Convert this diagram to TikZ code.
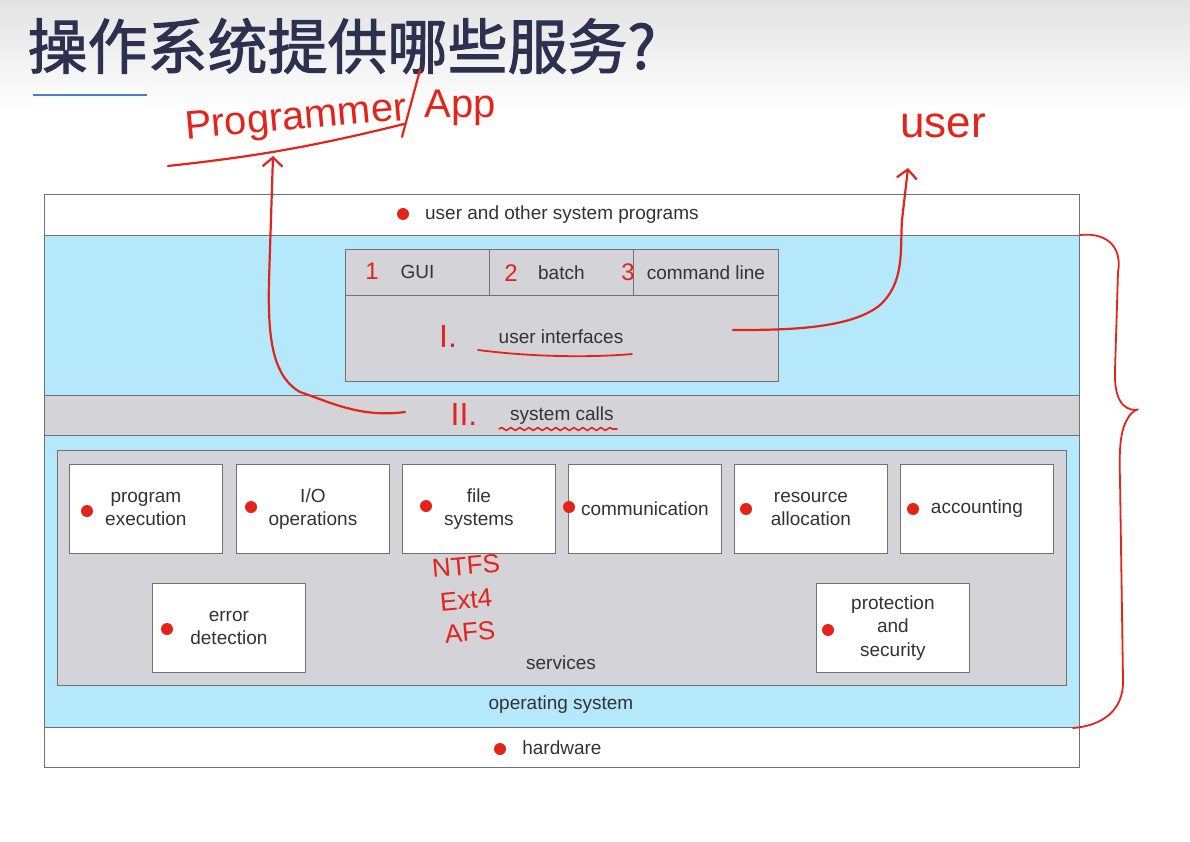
\documentclass[tikz,border=0pt]{standalone}
\usepackage{fontspec}
\setmainfont{Liberation Sans}
\newfontfamily\cjk[FakeBold=1.6]{Noto Sans CJK SC}
\newfontfamily\handfont{Liberation Sans}
\usepackage{xcolor}
\usetikzlibrary{arrows.meta,positioning,calc,decorations.pathmorphing}
\definecolor{osblue}{HTML}{B5E8FB}
\definecolor{panel}{HTML}{D3D3D8}
\definecolor{ink}{HTML}{333333}
\definecolor{frame}{HTML}{6E7278}
\definecolor{pen}{HTML}{E3241B}
\definecolor{ttlink}{HTML}{2E3050}
\definecolor{rulebl}{HTML}{4A7FC0}
\tikzset{
  lyr/.style  ={draw=frame, line width=0.8pt, anchor=north west, inner sep=0pt,
                font=\fontsize{19}{23.5}\selectfont, text=ink},
  lyrw/.style ={lyr, fill=white},
  lyrb/.style ={lyr, fill=osblue},
  lyrg/.style ={lyr, fill=panel},
  svc/.style  ={lyrw, minimum width=153, minimum height=89, align=center},
  lbl/.style  ={font=\fontsize{19}{23.5}\selectfont, text=ink},
  dot/.style  ={circle, fill=pen, inner sep=0pt, minimum size=12},
  hand/.style ={text=pen, font=\handfont\fontsize{30}{30}\selectfont},
  pn/.style   ={draw=pen, line width=2.2pt, line cap=round, line join=round},
  pnar/.style ={pn, -{Straight Barb[length=9pt,width=20pt]}},
}
\begin{document}
\begin{tikzpicture}[x=1pt,y=-1pt]
\useasboundingbox (0,0) rectangle (1190,842);
% header
\shade[top color=gray!22, bottom color=white] (0,0) rectangle (1190,112);
\node[anchor=west, text=ttlink, font=\cjk\fontsize{60}{64}\selectfont] (title) at (24,46) {操作系统提供哪些服务?};
\draw[rulebl, line width=2.5pt] (33,95) -- (147,95);

% layers
\node[lyrw, minimum width=1035, minimum height=41] (progs) at (44,194) {user and other system programs};
\node[lyrb, minimum width=1035, minimum height=492] (os) at (44,235) {};
\node[lyrw, minimum width=1035, minimum height=40] (hw) at (44,727) {hardware};
\node[lyrg, minimum width=433, minimum height=132] (ui) at (345,249) {};
\node[lyrg, minimum width=144, minimum height=46] (gui) at (345,249) {GUI};
\node[lyrg, minimum width=144, minimum height=46] (batch) at (489,249) {batch};
\node[lyrg, minimum width=145, minimum height=46] (cmd) at (633,249) {command line};
\node[lbl] (uitxt) at (561,337) {user interfaces};
\node[lyrg, minimum width=1035, minimum height=40] (sc) at (44,395) {system calls};
\node[lyrg, minimum width=1009, minimum height=235] (srv) at (57,450) {};
\node[lbl] (srvtxt) at (561,663) {services};
\node[lbl] (ostxt) at (561,705) {operating system};

% services
\foreach \n/\x/\t in {pe/69/{program\\execution}, io/236/{I/O\\operations},
    fs/402/{file\\systems}, comm/568/{communication}, ra/734/{resource\\allocation},
    acct/900/{accounting}}
  \node[svc] (\n) at (\x,464) {\t};
\node[svc] (ed) at (152,583) {error\\detection};
\node[svc] (ps) at (816,583) {protection\\and\\security};

% red marks
\foreach \n/\x/\y in {d1/403/214, d2/87/511, d3/251/507, d4/426/506, d5/569/507,
    d6/746/509, d7/913/509, d8/167/629, d9/828/630, d10/500/749}
  \node[dot] (\n) at (\x,\y) {};
\node[hand, font=\handfont\fontsize{24}{24}\selectfont] (n1) at (372,271) {1};
\node[hand, font=\handfont\fontsize{24}{24}\selectfont] (n2) at (511,273) {2};
\node[hand, font=\handfont\fontsize{24}{24}\selectfont] (n3) at (628,272) {3};
\node[hand, font=\fontsize{32}{32}\selectfont\rmfamily] (r1) at (448,336) {I.};
\node[hand, font=\fontsize{32}{32}\selectfont\rmfamily] (r2) at (464,414) {II.};
\draw[pn, line width=1.8pt] (478,350) .. controls (540,358) and (600,357) .. (632,354);
\draw[pn, line width=1.6pt, decorate, decoration={snake, amplitude=1.5pt, segment length=9pt}]
  (499,429) -- (617,429);

% file system examples
\node[hand, rotate=5, font=\handfont\fontsize{26}{26}\selectfont] (ntfs) at (466,566) {NTFS};
\node[hand, rotate=5, font=\handfont\fontsize{26}{26}\selectfont] (ext) at (466,600) {Ext4};
\node[hand, rotate=5, font=\handfont\fontsize{26}{26}\selectfont] (afs) at (470,632) {AFS};

% programmer / app
\node[hand, rotate=5, font=\handfont\fontsize{40}{40}\selectfont] (prog) at (296,120) {Programmer};
\node[hand, font=\handfont\fontsize{40}{40}\selectfont] (app) at (460,108) {App};
\draw[pn] (420,70) -- (402,137);
\draw[pn] (168,166) .. controls (240,158) and (300,150) .. (404,124);
\node[hand, font=\handfont\fontsize{44}{44}\selectfont] (user) at (943,126) {user};

% connectors
\coordinate (scL) at (405,412);
\coordinate (progTip) at (273,156);
\coordinate (uiR) at (733,330);
\coordinate (userTip) at (908,168);
\draw[pnar] (scL) .. controls (360,418) and (330,402) .. (300,392)
  .. controls (270,375) and (268,330) .. (269,280) -- (progTip);
\draw[pnar] (uiR) .. controls (780,330) and (850,330) .. (880,305)
  .. controls (905,282) and (900,250) .. (902,220) -- (userTip);

% brace
\draw[pn, line width=1.8pt] (1080,235) .. controls (1110,232) and (1122,250) .. (1118,272)
  -- (1115,370) .. controls (1114,398) and (1122,410) .. (1136,410)
  .. controls (1142,408) and (1132,410) .. (1128,418)
  .. controls (1120,430) and (1119,450) .. (1120,480)
  -- (1123,680) .. controls (1124,712) and (1100,726) .. (1073,728);
\end{tikzpicture}
\end{document}
